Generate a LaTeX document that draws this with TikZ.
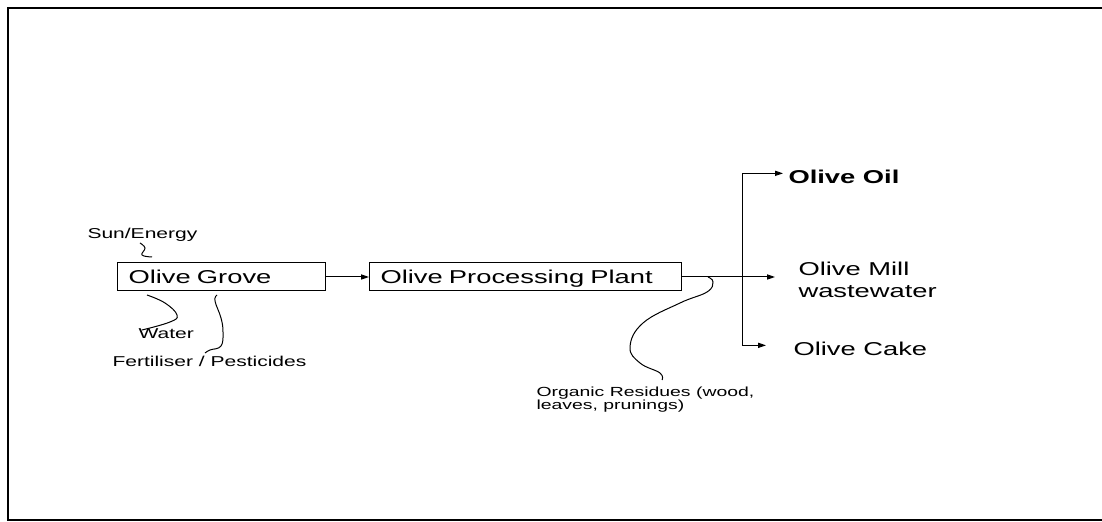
\documentclass[tikz,border=0pt]{standalone}
\usepackage{fontspec}
\setmainfont[FakeStretch=1.47]{Liberation Sans}
\usetikzlibrary{arrows.meta}

\begin{document}
\begin{tikzpicture}[
x=0.5pt, y=-0.5pt,
>={Triangle[length=4pt,width=2.6pt]},
line width=0.5pt,
unit/.style={
draw,
anchor=west,
align=left,
inner xsep=5.5pt,
inner ysep=0pt,
minimum height=14pt,
text height=6.7pt,
text depth=0pt,
font=\fontsize{9.3}{10}\selectfont},
product/.style={
anchor=base west,
inner sep=0pt,
align=left,
font=\fontsize{9.3}{11}\selectfont},
inflow/.style={
anchor=base west,
inner sep=0pt,
align=left,
font=\fontsize{7.15}{8}\selectfont},
wavy/.style={smooth, tension=0.7}
]

\useasboundingbox (0,0) rectangle (1102,522);
\draw[line width=0.75pt] (1102,8) -- (8,8) -- (8,520) -- (1102,520);

\node[unit, text width=93pt] (grove) at (117,277) {Olive Grove};
\node[unit, text width=145pt] (plant) at (369,277) {Olive Processing Plant};

\node[inflow] (sun) at (87,239) {Sun/Energy};
\node[inflow] (water) at (138,339) {Water};
\node[inflow] (fert) at (112,367) {Fertiliser / Pesticides};
\node[inflow, font=\fontsize{6.6}{6.7}\selectfont] (organic) at (536,410) {Organic Residues (wood,\\leaves, prunings)};

\node[product, font=\fontsize{9.3}{10}\selectfont\bfseries] (oil) at (788,184) {Olive Oil};
\node[product] (mill) at (798,298) {Olive Mill\\wastewater};
\node[product] (cake) at (793,356) {Olive Cake};

\coordinate (fork) at (742,277);

\draw[->] (grove) -- (plant);
\draw[->, shorten >=11.5pt] (plant.east) -- (plant.east -| mill.west);
\draw[->, shorten >=2.5pt] (fork) |- ([yshift=2pt]oil.west);
\draw[->, shorten >=13.5pt] (fork) |- ([yshift=2pt]cake.west);

\draw[wavy] plot coordinates {(140,243) (145,248) (142,255) (152,257)};
\draw[wavy] plot coordinates {(147,295) (165,303) (177,315) (170,322) (142,330)};
\draw[wavy] plot coordinates {(217,295) (215,301) (221,318) (223,332) (221,346) (210,350) (205,353)};
\draw[wavy] plot coordinates {(708,277) (713,282) (707,292) (680,303) (643,323) (630,347) (640,363) (660,373) (662,380)};

\end{tikzpicture}
\end{document}
